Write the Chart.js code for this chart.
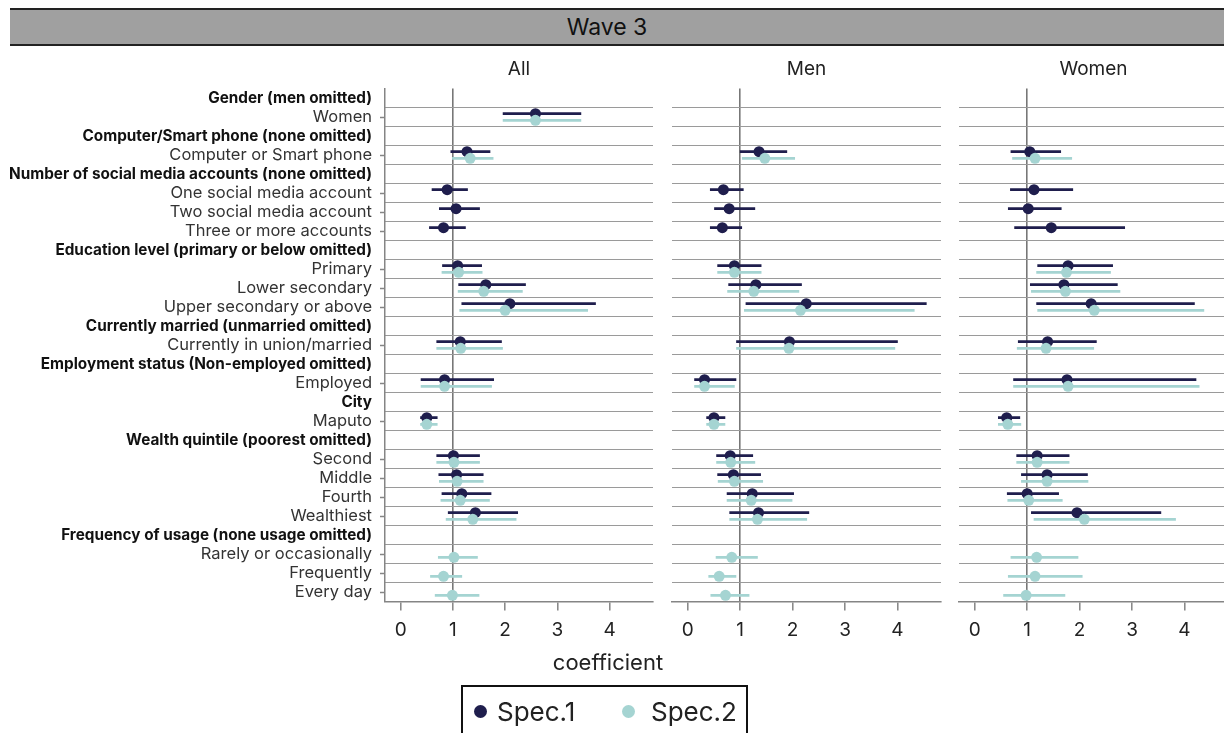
<!DOCTYPE html>
<html>
<head>
<meta charset="utf-8">
<title>Wave 3</title>
<script src="https://cdn.jsdelivr.net/npm/chart.js@4.4.1/dist/chart.umd.min.js"></script>
<style>
  html, body { margin: 0; padding: 0; background: #fff; }
  body { width: 1224px; height: 733px; position: relative; overflow: hidden; font-family: Inter, "Noto Sans", sans-serif; color: #222; }
  .abs { position: absolute; }
  #band { left: 10px; top: 8px; width: 1220px; height: 34px; background: #a0a0a0; border-top: 2px solid #222; border-bottom: 2px solid #222; }
  #wave { left: 507px; width: 200px; top: 10px; height: 34px; line-height: 34px; text-align: center; font-size: 23px; color: #111; }
  #xtitle { left: 458px; width: 300px; top: 648px; height: 28px; line-height: 28px; text-align: center; font-size: 22px; color: #222; }
  #legend { left: 461px; top: 685px; width: 283px; height: 70px; border: 2px solid #111; background: #fff; }
  .dot { width: 13px; height: 13px; border-radius: 50%; }
  .ltxt { font-size: 26px; line-height: 30px; height: 30px; color: #222; }
  canvas { position: absolute; }
</style>
</head>
<body>
<div id="band" class="abs"></div>
<div id="wave" class="abs">Wave 3</div>
<canvas id="panelAll" width="660" height="600" style="left:0px;top:50px;"></canvas>
<canvas id="panelMen" width="283" height="600" style="left:665px;top:50px;"></canvas>
<canvas id="panelWomen" width="282" height="600" style="left:952px;top:50px;"></canvas>
<div id="xtitle" class="abs">coefficient</div>
<div id="legend" class="abs">
  <div class="abs dot" style="left:11px;top:18px;background:#1f1e4d;"></div>
  <div class="abs ltxt" style="left:34px;top:10px;">Spec.1</div>
  <div class="abs dot" style="left:159px;top:18px;background:#a5d4d2;"></div>
  <div class="abs ltxt" style="left:188px;top:10px;">Spec.2</div>
</div>
<script>
// Row labels (top to bottom) and which of them are group headings
const rowLabels = [
  "Gender (men omitted)", "Women",
  "Computer/Smart phone (none omitted)", "Computer or Smart phone",
  "Number of social media accounts (none omitted)", "One social media account", "Two social media account", "Three or more accounts",
  "Education level (primary or below omitted)", "Primary", "Lower secondary", "Upper secondary or above",
  "Currently married (unmarried omitted)", "Currently in union/married",
  "Employment status (Non-employed omitted)", "Employed",
  "City", "Maputo",
  "Wealth quintile (poorest omitted)", "Second", "Middle", "Fourth", "Wealthiest",
  "Frequency of usage (none usage omitted)", "Rarely or occasionally", "Frequently", "Every day"
];
const headerRows = [1, 3, 5, 9, 13, 15, 17, 19, 24];

// x axis tick values and the reference value
const xTicks = [0, 1, 2, 3, 4];
const refValue = 1;

// Panel "All"
const allSpec1Coef = [null, 2.58, null, 1.27, null, 0.89, 1.06, 0.82, null, 1.09, 1.63, 2.09, null, 1.14, null, 0.84, null, 0.50, null, 1.01, 1.07, 1.17, 1.43, null, null, null, null];
const allSpec1Lo   = [null, 1.96, null, 0.96, null, 0.60, 0.74, 0.55, null, 0.80, 1.11, 1.17, null, 0.69, null, 0.39, null, 0.38, null, 0.69, 0.73, 0.79, 0.91, null, null, null, null];
const allSpec1Hi   = [null, 3.45, null, 1.71, null, 1.28, 1.51, 1.24, null, 1.55, 2.39, 3.73, null, 1.93, null, 1.78, null, 0.70, null, 1.51, 1.58, 1.73, 2.24, null, null, null, null];
const allSpec2Coef = [null, 2.58, null, 1.33, null, null, null, null, null, 1.11, 1.59, 2.00, null, 1.15, null, 0.84, null, 0.50, null, 1.02, 1.08, 1.14, 1.38, null, 1.02, 0.82, 0.99];
const allSpec2Lo   = [null, 1.96, null, 0.99, null, null, null, null, null, 0.79, 1.10, 1.13, null, 0.69, null, 0.39, null, 0.38, null, 0.69, 0.74, 0.77, 0.87, null, 0.72, 0.57, 0.66];
const allSpec2Hi   = [null, 3.45, null, 1.77, null, null, null, null, null, 1.56, 2.33, 3.58, null, 1.95, null, 1.74, null, 0.70, null, 1.51, 1.58, 1.70, 2.21, null, 1.47, 1.17, 1.50];

// Panel "Men"
const menSpec1Coef = [null, null, null, 1.36, null, 0.68, 0.79, 0.66, null, 0.89, 1.30, 2.26, null, 1.94, null, 0.32, null, 0.50, null, 0.81, 0.87, 1.23, 1.35, null, null, null, null];
const menSpec1Lo   = [null, null, null, 1.00, null, 0.43, 0.51, 0.43, null, 0.57, 0.78, 1.11, null, 0.93, null, 0.13, null, 0.36, null, 0.55, 0.57, 0.75, 0.80, null, null, null, null];
const menSpec1Hi   = [null, null, null, 1.89, null, 1.06, 1.28, 1.03, null, 1.40, 2.17, 4.55, null, 4.00, null, 0.92, null, 0.71, null, 1.24, 1.39, 2.02, 2.31, null, null, null, null];
const menSpec2Coef = [null, null, null, 1.47, null, null, null, null, null, 0.89, 1.26, 2.15, null, 1.93, null, 0.32, null, 0.50, null, 0.82, 0.89, 1.21, 1.33, null, 0.84, 0.60, 0.72];
const menSpec2Lo   = [null, null, null, 1.04, null, null, null, null, null, 0.57, 0.76, 1.08, null, 0.93, null, 0.13, null, 0.36, null, 0.55, 0.58, 0.75, 0.80, null, 0.54, 0.40, 0.44];
const menSpec2Hi   = [null, null, null, 2.04, null, null, null, null, null, 1.40, 2.12, 4.32, null, 3.95, null, 0.89, null, 0.71, null, 1.28, 1.43, 1.99, 2.27, null, 1.33, 0.92, 1.17];

// Panel "Women"
const womenSpec1Coef = [null, null, null, 1.05, null, 1.13, 1.02, 1.46, null, 1.78, 1.70, 2.22, null, 1.39, null, 1.76, null, 0.61, null, 1.19, 1.38, 1.00, 1.95, null, null, null, null];
const womenSpec1Lo   = [null, null, null, 0.69, null, 0.68, 0.64, 0.76, null, 1.20, 1.06, 1.18, null, 0.83, null, 0.74, null, 0.45, null, 0.80, 0.89, 0.62, 1.08, null, null, null, null];
const womenSpec1Hi   = [null, null, null, 1.64, null, 1.87, 1.65, 2.86, null, 2.63, 2.72, 4.19, null, 2.32, null, 4.22, null, 0.86, null, 1.80, 2.15, 1.60, 3.55, null, null, null, null];
const womenSpec2Coef = [null, null, null, 1.15, null, null, null, null, null, 1.75, 1.73, 2.28, null, 1.36, null, 1.78, null, 0.63, null, 1.19, 1.38, 1.03, 2.09, null, 1.18, 1.15, 0.98];
const womenSpec2Lo   = [null, null, null, 0.72, null, null, null, null, null, 1.18, 1.08, 1.20, null, 0.81, null, 0.74, null, 0.45, null, 0.80, 0.89, 0.63, 1.13, null, 0.69, 0.64, 0.55];
const womenSpec2Hi   = [null, null, null, 1.85, null, null, null, null, null, 2.59, 2.77, 4.37, null, 2.27, null, 4.28, null, 0.88, null, 1.80, 2.16, 1.67, 3.83, null, 1.97, 2.05, 1.72];

const SPEC1_COLOR = '#1f1e4d';
const SPEC2_COLOR = '#a5d4d2';
const AXIS_COLOR = '#858585';
const GRID_COLOR = '#9a9a9a';
const NONE = 'rgba(0,0,0,0)';
const FONT = 'Inter, "Noto Sans", sans-serif';
const SHIFT = 0.175; // vertical nudge of each specification within a row

const isHeader = i => headerRows.includes(i + 1);

// CI bars and point markers for one specification
function specDatasets(coef, lo, hi, color, shift, order) {
  const ci = [], pts = [];
  coef.forEach((c, i) => {
    if (c === null) return;
    const y = i + 1 + shift;
    ci.push({ x: [lo[i], hi[i]], y });
    pts.push({ x: c, y });
  });
  return [
    { type: 'bar', indexAxis: 'y', data: ci, backgroundColor: color, borderWidth: 0,
      barThickness: 2, grouped: false, order: order + 1, xAxisID: 'x', yAxisID: 'y' },
    { type: 'scatter', data: pts, pointRadius: 5.5, pointBackgroundColor: color,
      pointBorderWidth: 0, pointHoverRadius: 5.5, order: order, xAxisID: 'x', yAxisID: 'y' }
  ];
}

function makePanel(canvasId, title, s1, s2, withLabels, pad) {
  const datasets = [
    ...specDatasets(s1[0], s1[1], s1[2], SPEC1_COLOR, -SHIFT, 2),
    ...specDatasets(s2[0], s2[1], s2[2], SPEC2_COLOR, SHIFT, 0)
  ];
  return new Chart(document.getElementById(canvasId), {
    type: 'scatter',
    data: { datasets },
    options: {
      responsive: false,
      animation: false,
      devicePixelRatio: 1,
      events: [],
      layout: { padding: pad },
      plugins: {
        legend: { display: false },
        tooltip: { enabled: false },
        title: {
          display: true, text: title, fullSize: false, color: '#222',
          font: { family: FONT, size: 19, weight: 'normal' },
          padding: { top: 7.6, bottom: 8.1 }
        }
      },
      scales: {
        x: {
          type: 'linear', position: 'bottom', min: -0.3, max: 4.83, offset: false,
          afterBuildTicks: s => { s.ticks = xTicks.map(v => ({ value: v })); },
          afterFit: s => { s.height = 48.5; },
          ticks: { color: '#222', padding: 8, font: { family: FONT, size: 19 }, callback: v => String(v) },
          grid: {
            offset: false,
            color: ctx => (ctx.tick && ctx.tick.value === refValue) ? '#777777' : NONE,
            lineWidth: 1.6, drawTicks: true, tickLength: 9, tickColor: AXIS_COLOR, tickWidth: 1.5
          },
          border: { display: true, color: AXIS_COLOR, width: 1.5 }
        },
        y: {
          type: 'linear', position: 'left', reverse: true, min: 0.5, max: 27.5, offset: false,
          afterBuildTicks: s => { s.ticks = rowLabels.map((_, i) => ({ value: i + 1 })); },
          afterFit: s => { s.width = withLabels ? 385 : 0; },
          ticks: {
            display: withLabels, autoSkip: false, padding: 8,
            callback: (v, i) => rowLabels[i],
            color: ctx => isHeader(ctx.index) ? '#111' : '#333',
            font: ctx => isHeader(ctx.index)
              ? { family: FONT, size: 15.3, weight: 'bold' }
              : { family: FONT, size: 16.5, weight: 'normal' }
          },
          grid: {
            offset: false, display: withLabels,
            drawOnChartArea: false, drawTicks: true, tickLength: 5, tickWidth: 1.5,
            tickColor: ctx => isHeader(ctx.index) ? NONE : AXIS_COLOR
          },
          border: { display: withLabels, color: AXIS_COLOR, width: 1.5 }
        },
        yGrid: {
          type: 'linear', position: 'left', reverse: true, min: 0.5, max: 27.5, offset: false,
          afterBuildTicks: s => { s.ticks = rowLabels.slice(1).map((_, i) => ({ value: i + 1.5 })); },
          afterFit: s => { s.width = 0; },
          ticks: { display: false },
          grid: { offset: false, drawTicks: false, color: GRID_COLOR, lineWidth: 1 },
          border: { display: false }
        }
      }
    }
  });
}

makePanel('panelAll', 'All',
  [allSpec1Coef, allSpec1Lo, allSpec1Hi], [allSpec2Coef, allSpec2Lo, allSpec2Hi],
  true, { left: 0, right: 7, top: 0, bottom: 0 });
makePanel('panelMen', 'Men',
  [menSpec1Coef, menSpec1Lo, menSpec1Hi], [menSpec2Coef, menSpec2Lo, menSpec2Hi],
  false, { left: 7, right: 7, top: 0, bottom: 0 });
makePanel('panelWomen', 'Women',
  [womenSpec1Coef, womenSpec1Lo, womenSpec1Hi], [womenSpec2Coef, womenSpec2Lo, womenSpec2Hi],
  false, { left: 7, right: 6, top: 0, bottom: 0 });
</script>
</body>
</html>
